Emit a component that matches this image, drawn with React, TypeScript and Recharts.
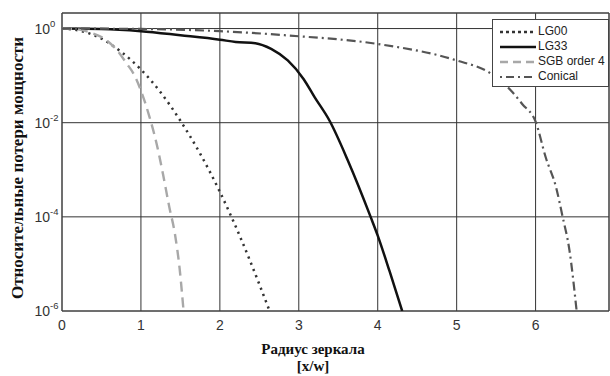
import React from 'react';
import { LineChart, Line, XAxis, YAxis, CartesianGrid, Legend, ReferenceArea } from 'recharts';

// radius [x/w] and relative power loss for each beam profile
const lg00R = [0, 0.25, 0.5, 0.75, 1, 1.25, 1.5, 1.75, 2, 2.25, 2.5, 2.63];
const lg00P = [1, 0.88, 0.61, 0.32, 0.135, 0.044, 0.011, 0.0022, 3.4e-4, 4.0e-5, 3.7e-6, 1e-6];

const lg33R = [0, 0.5, 1, 1.5, 2, 2.2, 2.45, 2.65, 2.86, 3.06, 3.2, 3.39, 3.62, 3.91, 4.0, 4.15, 4.31];
const lg33P = [1, 0.98, 0.88, 0.72, 0.58, 0.52, 0.49, 0.37, 0.21, 0.085, 0.035, 0.011, 0.0016, 1e-4, 4e-5, 7e-6, 1e-6];

const sgbR = [0, 0.2, 0.35, 0.54, 0.7, 0.82, 0.92, 1.0, 1.11, 1.2, 1.28, 1.36, 1.43, 1.49, 1.54];
const sgbP = [1, 0.96, 0.83, 0.6, 0.34, 0.18, 0.1, 0.048, 0.013, 0.0035, 8e-4, 1.6e-4, 4.4e-5, 8e-6, 1e-6];

const conR = [0, 1, 2, 2.88, 4, 5, 5.41, 5.69, 5.83, 6.0, 6.13, 6.26, 6.34, 6.43, 6.52];
const conP = [1, 0.98, 0.88, 0.71, 0.47, 0.21, 0.117, 0.048, 0.025, 0.0105, 0.0018, 4.2e-4, 1.05e-4, 1.9e-5, 1e-6];

const xTicks = [0, 1, 2, 3, 4, 5, 6];
const yTicks = [1e-6, 1e-4, 1e-2, 1];
const yExponents = ['-6', '-4', '-2', '0'];

const X_MAX = 6.93;
const Y_MIN = 1e-6;
const Y_MAX = 2.14;

const zip = (r: number[], p: number[]) => r.map((x, i) => ({ r: x, p: p[i] }));

const series = [
  { name: 'LG00', data: zip(lg00R, lg00P), stroke: '#333', width: 2.5, dash: '2.2 4.5', legendDash: '3 3' },
  { name: 'LG33', data: zip(lg33R, lg33P), stroke: '#111', width: 2.5, dash: undefined, legendDash: undefined },
  { name: 'SGB order 4', data: zip(sgbR, sgbP), stroke: '#a8a8a8', width: 2.4, dash: '10 6', legendDash: '8 5' },
  { name: 'Conical', data: zip(conR, conP), stroke: '#555', width: 2.2, dash: '9 4 2 4', legendDash: '2 4 8 4' },
];

const sans = '"Liberation Sans", Arial, sans-serif';
const serif = '"Liberation Serif", "Times New Roman", serif';

function PowerTick(props: any) {
  const { x, y, payload } = props;
  const idx = yTicks.indexOf(payload.value);
  const exp = idx >= 0 ? yExponents[idx] : '';
  return (
    <g fill="#333" fontFamily={sans}>
      <text x={x - 12} y={y + 5} fontSize={14} textAnchor="end">10</text>
      <text x={x - 12} y={y - 2} fontSize={9.5} textAnchor="start">{exp}</text>
    </g>
  );
}

function RadiusLabel() {
  return (
    <g fontFamily={serif} fontWeight="bold" fontSize={15} fill="#111" textAnchor="middle">
      <text x={313} y={354}>Радиус зеркала</text>
      <text x={313} y={371}>[x/w]</text>
    </g>
  );
}

function LossLabel() {
  return (
    <text
      x={17}
      y={168}
      transform="rotate(-90 17 168)"
      textAnchor="middle"
      dominantBaseline="central"
      fontFamily={serif}
      fontWeight="bold"
      fontSize={17}
      fill="#111"
    >
      Относительные потери мощности
    </text>
  );
}

function LegendBox() {
  return (
    <div
      style={{
        width: 117,
        height: 68,
        background: '#fff',
        border: '1px solid #444',
        fontFamily: sans,
        fontSize: 12,
        lineHeight: '15px',
        color: '#222',
        boxSizing: 'border-box',
        paddingTop: 4,
        whiteSpace: 'nowrap',
      }}
    >
      {series.map((s) => (
        <div key={s.name} style={{ display: 'flex', alignItems: 'center', height: 15 }}>
          <svg width={45} height={10} style={{ flex: 'none' }}>
            <line
              x1={7}
              x2={43}
              y1={5}
              y2={5}
              stroke={s.stroke}
              strokeWidth={s.width}
              strokeDasharray={s.legendDash}
            />
          </svg>
          <span>{s.name}</span>
        </div>
      ))}
    </div>
  );
}

export default function App() {
  return (
    <div style={{ position: 'absolute', left: 0, top: 0, width: 610, height: 376, background: '#fff' }}>
      <LineChart width={610} height={376} margin={{ top: 13, right: 1, bottom: 0, left: 0 }}>
        <CartesianGrid stroke="#333" strokeWidth={1} />
        <XAxis
          type="number"
          dataKey="r"
          domain={[0, X_MAX]}
          ticks={xTicks}
          allowDataOverflow
          axisLine={false}
          tickLine={false}
          tickSize={0}
          tickMargin={9}
          height={65}
          tick={{ fill: '#333', fontSize: 14, fontFamily: sans }}
          label={<RadiusLabel />}
        />
        <YAxis
          type="number"
          dataKey="p"
          scale="log"
          domain={[Y_MIN, Y_MAX]}
          ticks={yTicks}
          allowDataOverflow
          axisLine={false}
          tickLine={false}
          tickSize={0}
          tickMargin={0}
          width={62}
          tick={<PowerTick />}
          label={<LossLabel />}
        />
        <ReferenceArea x1={0} x2={X_MAX} y1={Y_MIN} y2={Y_MAX} fill="none" stroke="#444" strokeWidth={1} ifOverflow="visible" />
        {series.map((s) => (
          <Line
            key={s.name}
            name={s.name}
            data={s.data}
            dataKey="p"
            type="monotone"
            stroke={s.stroke}
            strokeWidth={s.width}
            strokeDasharray={s.dash}
            dot={false}
            activeDot={false}
            isAnimationActive={false}
          />
        ))}
        <Legend
          layout="vertical"
          align="center"
          verticalAlign="middle"
          content={<LegendBox />}
          wrapperStyle={{ left: 492, top: 19, width: 117, height: 68 }}
        />
      </LineChart>
    </div>
  );
}
